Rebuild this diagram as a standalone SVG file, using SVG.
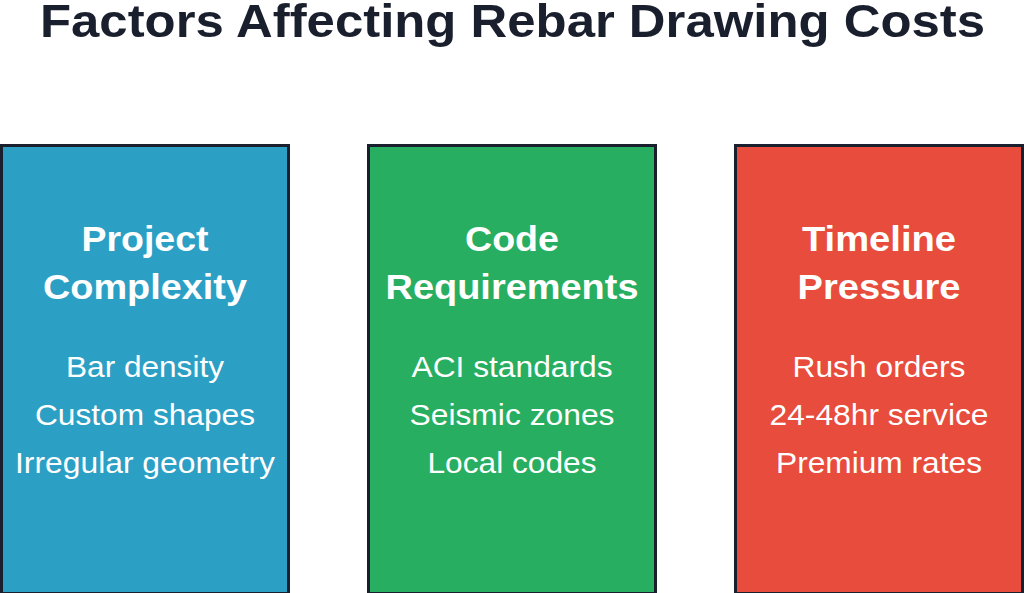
<svg xmlns="http://www.w3.org/2000/svg" width="1024" height="593" viewBox="0 0 1024 593">
<style>
.box{stroke:#1a1f2e;stroke-width:3}
.t{font-family:"Liberation Sans",Arial,sans-serif;font-weight:bold;font-size:46px;fill:#1a1f2e;text-anchor:middle}
.h{font-family:"Liberation Sans",Arial,sans-serif;font-weight:bold;font-size:35px;fill:#ffffff;text-anchor:middle}
.b{font-family:"Liberation Sans",Arial,sans-serif;font-size:29px;fill:#ffffff;text-anchor:middle}
</style>
<rect width="1024" height="593" fill="#ffffff"/>
<text class="t" x="512.5" y="37" textLength="945" lengthAdjust="spacingAndGlyphs">Factors Affecting Rebar Drawing Costs</text>
<g id="project-complexity">
<rect class="box" x="1.5" y="145.5" width="287" height="448" fill="#2c9fc5"/>
<text class="h" x="145" y="251" textLength="127" lengthAdjust="spacingAndGlyphs">Project</text>
<text class="h" x="145" y="299" textLength="204" lengthAdjust="spacingAndGlyphs">Complexity</text>
<text class="b" x="145" y="377" textLength="158" lengthAdjust="spacingAndGlyphs">Bar density</text>
<text class="b" x="145" y="425" textLength="220" lengthAdjust="spacingAndGlyphs">Custom shapes</text>
<text class="b" x="145" y="473" textLength="260" lengthAdjust="spacingAndGlyphs">Irregular geometry</text>
</g>
<g id="code-requirements">
<rect class="box" x="368.5" y="145.5" width="287" height="448" fill="#27ae60"/>
<text class="h" x="512" y="251" textLength="94" lengthAdjust="spacingAndGlyphs">Code</text>
<text class="h" x="512" y="299" textLength="253" lengthAdjust="spacingAndGlyphs">Requirements</text>
<text class="b" x="512" y="377" textLength="201" lengthAdjust="spacingAndGlyphs">ACI standards</text>
<text class="b" x="512" y="425" textLength="205" lengthAdjust="spacingAndGlyphs">Seismic zones</text>
<text class="b" x="512" y="473" textLength="169" lengthAdjust="spacingAndGlyphs">Local codes</text>
</g>
<g id="timeline-pressure">
<rect class="box" x="735.5" y="145.5" width="287" height="448" fill="#e74c3c"/>
<text class="h" x="879" y="251" textLength="154" lengthAdjust="spacingAndGlyphs">Timeline</text>
<text class="h" x="879" y="299" textLength="163" lengthAdjust="spacingAndGlyphs">Pressure</text>
<text class="b" x="879" y="377" textLength="173" lengthAdjust="spacingAndGlyphs">Rush orders</text>
<text class="b" x="879" y="425" textLength="219" lengthAdjust="spacingAndGlyphs">24-48hr service</text>
<text class="b" x="879" y="473" textLength="206" lengthAdjust="spacingAndGlyphs">Premium rates</text>
</g>
<g id="connectors"/>
</svg>
